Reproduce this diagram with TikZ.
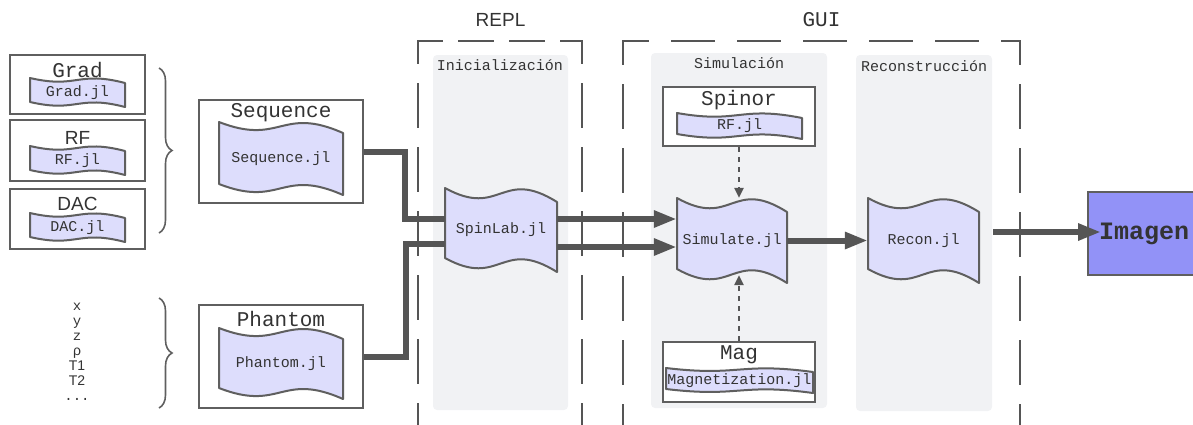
\documentclass[tikz,border=0pt]{standalone}
\usepackage{fontspec}
\setmainfont{Liberation Sans}
\setsansfont{Liberation Sans}
\setmonofont{Liberation Mono}
\usetikzlibrary{arrows.meta,decorations.pathreplacing}

\definecolor{ink}{HTML}{333333}
\definecolor{edge}{HTML}{5F5F5F}
\definecolor{wire}{HTML}{555555}
\definecolor{tapefill}{HTML}{DDDDFC}
\definecolor{panel}{HTML}{F1F2F4}
\definecolor{imgfill}{HTML}{9292F7}

\tikzset{
  modbox/.style={draw=edge, line width=2pt, fill=white, inner sep=0pt},
  tapeshape/.style={draw=edge, line width=2pt, fill=tapefill, line join=round},
  tapetext/.style={inner sep=0pt, font=\ttfamily\fontsize{15}{18}\selectfont, text=ink},
  hdr/.style={inner sep=0pt, font=\ttfamily\fontsize{21}{24}\selectfont, text=ink},
  hdrsans/.style={inner sep=0pt, font=\sffamily\fontsize{19}{22}\selectfont, text=ink},
  paneltitle/.style={inner sep=0pt, font=\ttfamily\fontsize{15}{18}\selectfont, text=ink},
  proplist/.style={inner sep=0pt, align=center, text=ink,
    font=\fontsize{14}{15}\selectfont},
  panelbg/.style={fill=panel, rounded corners=4pt},
  zoneline/.style={draw=wire, line width=2pt, line cap=rect},
  flow/.style={draw=wire, line width=6pt, line join=miter},
  flowarrow/.style={flow, -{Triangle[length=23pt,width=16pt]}},
  hint/.style={draw=wire, line width=2.5pt, dash pattern=on 5pt off 5pt,
    -{Triangle[length=10pt,width=9pt]}},
  curly/.style={draw=edge, line width=1.6pt, decorate,
    decoration={brace, amplitude=13pt}},
}

% wavy "tape" document: name, centre x, centre y, width, height, wave drop, text
\newcommand\tapedoc[7]{%
  \pgfmathsetmacro\tdl{#2-#4/2}%
  \pgfmathsetmacro\tdr{#2+#4/2}%
  \pgfmathsetmacro\tdt{#3-#5/2}%
  \pgfmathsetmacro\tdb{#3+#5/2}%
  \draw[tapeshape] (\tdl,\tdt)
    .. controls (#2,\tdt+2.2*#6) and (#2,\tdt-1.5*#6) .. (\tdr,\tdt+#6)
    -- (\tdr,\tdb)
    .. controls (#2,\tdb-2.5*#6) and (#2,\tdb+1.2*#6) .. (\tdl,\tdb-#6)
    -- cycle;
  \node[tapetext, minimum width=#4, minimum height=#5] (#1) at (#2,#3) {#7};
}

\begin{document}
\begin{tikzpicture}[x=1pt,y=-1pt]
\useasboundingbox (0,0) rectangle (1193,424);

% grey stage panels
\fill[panelbg] (433,55) rectangle (568,410);
\fill[panelbg] (651,53) rectangle (827,408);
\fill[panelbg] (856,55) rectangle (992,411);
\node[paneltitle] (tinit)  at (500,65) {Inicialización};
\node[paneltitle] (tsim)   at (739,63) {Simulación};
\node[paneltitle] (trecon) at (924,66) {Reconstrucción};

% dashed REPL / GUI frames (open at the bottom)
\draw[zoneline, dash pattern=on 43pt off 21pt, dash phase=21pt] (418,41) -- (418,440);
\draw[zoneline, dash pattern=on 34pt off 17pt, dash phase=10pt] (418,41) -- (582,41);
\draw[zoneline, dash pattern=on 43pt off 21pt, dash phase=21pt] (582,41) -- (582,440);
\draw[zoneline, dash pattern=on 43pt off 21pt, dash phase=20pt] (623,41) -- (623,440);
\draw[zoneline, dash pattern=on 42pt off 24pt, dash phase=17pt] (623,41) -- (1020,41);
\draw[zoneline, dash pattern=on 43pt off 21pt, dash phase=20pt] (1020,41) -- (1020,440);
\node[hdrsans] (trepl) at (500.5,20) {REPL};
\node[hdr]     (tgui)  at (821.5,20) {GUI};

% sequence building blocks
\node[modbox, minimum width=135, minimum height=59] (grad) at (77.5,84.5) {};
\node[hdr] (tgrad) at (77.5,70) {Grad};
\tapedoc{gradjl}{77.5}{92.5}{95}{29}{5}{Grad.jl}

\node[modbox, minimum width=135, minimum height=61] (rf) at (77.5,150.5) {};
\node[hdrsans] (trf) at (77.5,138) {RF};
\tapedoc{rfjl}{77.5}{160.5}{95}{29}{5}{RF.jl}

\node[modbox, minimum width=135, minimum height=60] (dac) at (77.5,219) {};
\node[hdrsans] (tdac) at (77.5,204) {DAC};
\tapedoc{dacjl}{77.5}{227.5}{95}{29}{5}{DAC.jl}

\draw[curly] (159,68) -- (159,233);

% phantom properties
\node[proplist] (props) at (77,352) {%
  {\ttfamily x}\\{\ttfamily y}\\{\ttfamily z}\\{\sffamily ρ}\\%
  {\sffamily T1}\\{\sffamily T2}\\{\ttfamily ...}};

\draw[curly] (159,298) -- (159,408);

% Sequence and Phantom modules
\node[modbox, minimum width=164, minimum height=103] (seq) at (281,151.5) {};
\node[hdr] (tseq) at (281,113) {Sequence};
\tapedoc{seqjl}{281}{158.5}{124}{73}{11}{Sequence.jl}

\node[modbox, minimum width=164, minimum height=103] (phan) at (281,356.5) {};
\node[hdr] (tphan) at (281,319) {Phantom};
\tapedoc{phanjl}{281}{363.5}{124}{71}{11}{Phantom.jl}

% core modules
\tapedoc{spinlab}{501}{230}{112}{84}{14}{SpinLab.jl}
\tapedoc{simulate}{732}{240.5}{110}{85}{14}{Simulate.jl}
\tapedoc{recon}{923.5}{240.5}{111}{85}{14}{Recon.jl}

\node[modbox, minimum width=152, minimum height=59] (spinor) at (739,116.5) {};
\node[hdr] (tspinor) at (739,100) {Spinor};
\tapedoc{spinorjl}{739.5}{126}{125}{26}{5}{RF.jl}

\node[modbox, minimum width=152, minimum height=60] (mag) at (739,372) {};
\node[hdr] (tmag) at (739,355) {Mag};
\tapedoc{magjl}{739.5}{380.5}{147}{25}{4}{Magnetization.jl}

\node[draw=edge, line width=2pt, fill=imgfill, minimum width=112, minimum height=83,
      inner sep=0pt, text=ink, font=\ttfamily\bfseries\fontsize{25}{28}\selectfont]
      (imagen) at (1144,233.5) {Imagen};

% data flow
\draw[flow] (seq.east) -- ++(41,0) |- ([yshift=11pt]spinlab.west);
\draw[flow] (phan.east) -- ++(42,0) |- ([yshift=-14pt]spinlab.west);
\draw[flowarrow] ([yshift=11pt]spinlab.east) -- ([yshift=11pt]spinlab.east -| simulate.west);
\draw[flowarrow] ([yshift=-17pt]spinlab.east) -- ([yshift=-17pt]spinlab.east -| simulate.west);
\draw[flowarrow] (simulate.east) -- (recon.west);
\draw[flowarrow] ([xshift=14pt,yshift=8.5pt]recon.east) -- ([xshift=14pt,yshift=8.5pt]recon.east -| imagen.west);

% dependencies of the simulator
\coordinate (simlow) at ([yshift=8pt]simulate.south);
\draw[hint] (spinor.south) -- (spinor.south |- simulate.north);
\draw[hint] (mag.north) -- (mag.north |- simlow);
\end{tikzpicture}
\end{document}
